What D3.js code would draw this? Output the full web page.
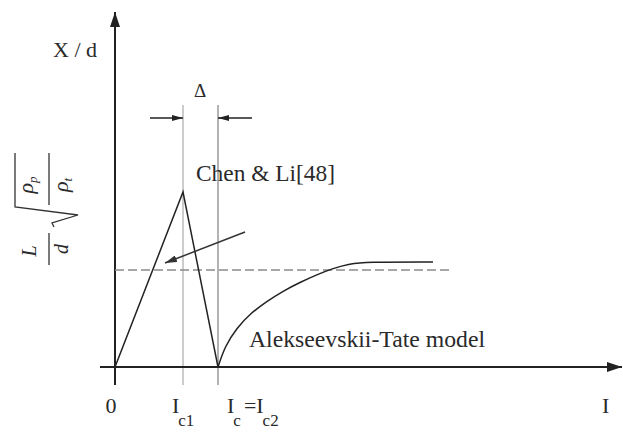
<!DOCTYPE html>
<html>
<head>
<meta charset="utf-8">
<script src="https://cdn.jsdelivr.net/npm/d3@7"></script>
<style>
  html, body { margin: 0; padding: 0; background: #fff; }
  svg { display: block; }
  text { font-family: "Liberation Serif", "DejaVu Serif", serif; fill: #2a2a2a; }
</style>
</head>
<body>
<svg id="chart" width="623" height="432"></svg>
<script>
// ---- data (abstract units) ----
const chenX = [0, 13.6, 20.6];
const chenY = [0, 50, 0];
const atX = [20.6, 22.0, 24.4, 27, 30.4, 33.6, 37, 40.4, 43.6, 47, 50, 63.6];
const atY = [0, 6.0, 11.2, 15.2, 18.8, 21.7, 24.2, 26.4, 28.2, 29.5, 30, 30];
const dashLevel = 27.7;
const dashRange = [0, 67];
const tickValues = [0, 13.6, 20.6];
const tickMain = ["0", "I", "I"];
const tickSub = ["", "c1", "c"];
const tickTail = ["", "", "=I"];
const tickTailSub = ["", "", "c2"];
const guideValues = [13.6, 20.6];
const chenLabel = "Chen & Li[48]";
const atLabel = "Alekseevskii-Tate model";

// ---- scales ----
const x = d3.scaleLinear().domain([0, 100]).range([115, 615]);
const y = d3.scaleLinear().domain([0, 100]).range([367, 17]);

const svg = d3.select("#chart");
const ink = "#222";

const defs = svg.append("defs");
function marker(id, w, h, color) {
  defs.append("marker").attr("id", id)
    .attr("viewBox", `0 0 ${w} ${h}`).attr("refX", w).attr("refY", h / 2)
    .attr("markerWidth", w).attr("markerHeight", h)
    .attr("markerUnits", "userSpaceOnUse").attr("orient", "auto")
    .append("path").attr("d", `M0,0 L${w},${h/2} L0,${h} Z`).attr("fill", color);
}
marker("axisHead", 15, 10, ink);
marker("smallHead", 11, 6, ink);
marker("annHead", 12, 7, "#333");

// ---- guide lines at Ic1 and Ic2 ----
svg.selectAll("line.guide").data(guideValues).join("line")
  .attr("class", "guide")
  .attr("x1", d => x(d)).attr("x2", d => x(d))
  .attr("y1", 105).attr("y2", 385)
  .attr("stroke", (d, i) => i === 0 ? "#9a9a9a" : "#666")
  .attr("stroke-width", 1);

// ---- axes ----
svg.append("line").attr("x1", 100).attr("x2", 622).attr("y1", y(0)).attr("y2", y(0))
  .attr("stroke", ink).attr("stroke-width", 2).attr("marker-end", "url(#axisHead)");
svg.append("line").attr("x1", x(0)).attr("x2", x(0)).attr("y1", 385).attr("y2", 12)
  .attr("stroke", ink).attr("stroke-width", 2).attr("marker-end", "url(#axisHead)");

// ---- dashed level line ----
svg.append("line")
  .attr("x1", x(dashRange[0])).attr("x2", x(dashRange[1]))
  .attr("y1", y(dashLevel)).attr("y2", y(dashLevel))
  .attr("stroke", "#8a8a8a").attr("stroke-width", 1.5).attr("stroke-dasharray", "9,4");

// ---- Chen & Li triangle ----
const line = d3.line().x(d => x(d[0])).y(d => y(d[1]));
svg.append("path").datum(chenX.map((v, i) => [v, chenY[i]]))
  .attr("d", line).attr("fill", "none").attr("stroke", ink).attr("stroke-width", 1.5);

// ---- Alekseevskii-Tate curve ----
const curve = d3.line().x(d => x(d[0])).y(d => y(d[1])).curve(d3.curveBasis);
svg.append("path").datum(atX.map((v, i) => [v, atY[i]]))
  .attr("d", curve).attr("fill", "none").attr("stroke", ink).attr("stroke-width", 1.5);

// ---- annotation arrow ----
svg.append("line").attr("x1", 245).attr("y1", 232).attr("x2", 165).attr("y2", 263)
  .attr("stroke", "#333").attr("stroke-width", 1.5).attr("marker-end", "url(#annHead)");

// ---- Delta arrows ----
svg.append("line").attr("x1", 150).attr("x2", x(guideValues[0])).attr("y1", 118).attr("y2", 118)
  .attr("stroke", ink).attr("stroke-width", 1.5).attr("marker-end", "url(#smallHead)");
svg.append("line").attr("x1", 252).attr("x2", x(guideValues[1])).attr("y1", 118).attr("y2", 118)
  .attr("stroke", ink).attr("stroke-width", 1.5).attr("marker-end", "url(#smallHead)");
svg.append("text").attr("x", 200).attr("y", 97).attr("text-anchor", "middle")
  .attr("font-size", 19).text("Δ");

// ---- labels ----
svg.append("text").attr("x", 196).attr("y", 181).attr("font-size", 23)
  .attr("textLength", 139).attr("lengthAdjust", "spacingAndGlyphs").text(chenLabel);
svg.append("text").attr("x", 249).attr("y", 347).attr("font-size", 23)
  .attr("textLength", 236).attr("lengthAdjust", "spacingAndGlyphs").text(atLabel);
svg.append("text").attr("x", 53).attr("y", 57).attr("font-size", 22)
  .attr("textLength", 44).attr("lengthAdjust", "spacing").text("X/d");

// ---- x tick labels ----
const tickOffset = [-4, -11, 9];
const tl = svg.selectAll("text.tick").data(tickValues).join("text")
  .attr("class", "tick")
  .attr("x", (d, i) => x(d) + tickOffset[i])
  .attr("text-anchor", (d, i) => i === 0 ? "middle" : "start")
  .attr("y", 413).attr("font-size", 22);
tl.each(function(d, i) {
  const t = d3.select(this);
  t.append("tspan").text(tickMain[i]);
  if (tickSub[i]) t.append("tspan").attr("font-size", 17).attr("dy", 13).attr("dx", -1).text(tickSub[i]);
  if (tickTail[i]) t.append("tspan").attr("dy", -13).attr("dx", 3).text(tickTail[i]);
  if (tickTailSub[i]) t.append("tspan").attr("font-size", 17).attr("dy", 13).attr("dx", -1).text(tickTailSub[i]);
});
svg.append("text").attr("x", 602).attr("y", 413).attr("font-size", 22).text("I");

// ---- rotated y label: L/d sqrt(rho_p / rho_t) ----
const yl = svg.append("g").attr("transform", "translate(48,205) rotate(-90)");
const ystroke = "#333";
// L / d
yl.append("text").attr("x", -46).attr("y", -12).attr("text-anchor", "middle")
  .attr("font-size", 20).attr("font-style", "italic").text("L");
yl.append("text").attr("x", -44).attr("y", 20).attr("text-anchor", "middle")
  .attr("font-size", 20).attr("font-style", "italic").text("d");
yl.append("line").attr("x1", -60).attr("x2", -28).attr("y1", 1).attr("y2", 1)
  .attr("stroke", ystroke).attr("stroke-width", 1.3);
// radical
yl.append("path").attr("d", "M-22,6 L-18,4 L-10,30 L-2,-33 L52,-33")
  .attr("fill", "none").attr("stroke", ystroke).attr("stroke-width", 1.3);
// rho_p / rho_t
yl.append("line").attr("x1", 0).attr("x2", 52).attr("y1", 1).attr("y2", 1)
  .attr("stroke", ystroke).attr("stroke-width", 1.3);
const rp = yl.append("text").attr("x", 20).attr("y", -15).attr("text-anchor", "middle")
  .attr("font-size", 22).attr("font-style", "italic");
rp.append("tspan").text("ρ");
rp.append("tspan").attr("font-size", 13).attr("dy", 4).text("p");
const rt = yl.append("text").attr("x", 20).attr("y", 20).attr("text-anchor", "middle")
  .attr("font-size", 22).attr("font-style", "italic");
rt.append("tspan").text("ρ");
rt.append("tspan").attr("font-size", 13).attr("dy", 4).text("t");
</script>
</body>
</html>
